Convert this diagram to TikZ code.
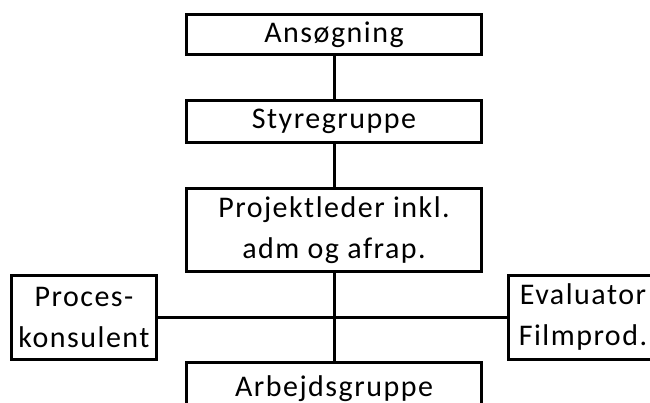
\documentclass[tikz,border=0pt]{standalone}
\usepackage{fontspec}
\setmainfont[LetterSpace=5]{Carlito}
\begin{document}
\begin{tikzpicture}[x=1pt,y=1pt,
  box/.style={draw=black, line width=3pt, fill=white, align=center, inner sep=0pt,
    font=\fontsize{30}{41}\selectfont},
  conn/.style={draw=black, line width=3pt}]
\clip (0,0) rectangle (650,403);
\fill[white] (0,0) rectangle (650,403);
\node[box, minimum width=295, minimum height=40] (ans) at (334,368.5) {Ansøgning};
\node[box, minimum width=295, minimum height=42] (sty) at (334,281.5) {Styregruppe};
\node[box, minimum width=295, minimum height=83] (proj) at (334,173) {Projektleder inkl.\\ adm og afrap.};
\node[box, minimum width=145, minimum height=84] (proc) at (84,85.5) {Proces-\\konsulent};
\node[box, minimum width=149, minimum height=84] (eval) at (583,85.5) {Evaluator\\Filmprod.};
\node[box, minimum width=295, minimum height=52] (arb) at (334,14) {Arbejdsgruppe};
\draw[conn] (ans.south) -- (sty.north);
\draw[conn] (sty.south) -- (proj.north);
\draw[conn] (proj.south) -- (arb.north);
\draw[conn] (proc.east) -- (eval.west);
\end{tikzpicture}
\end{document}
